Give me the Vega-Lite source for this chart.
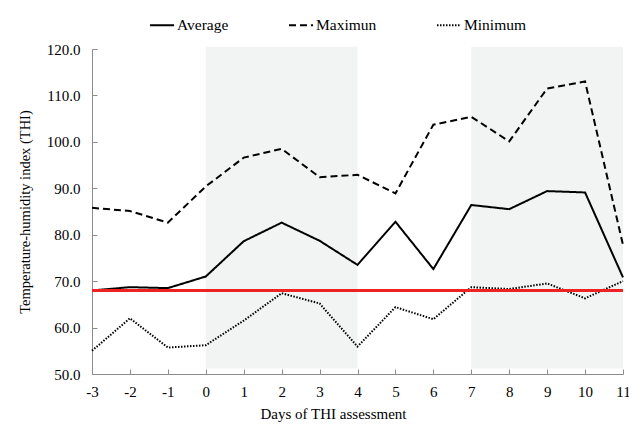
{
  "$schema": "https://vega.github.io/schema/vega-lite/v6.json",
  "autosize": "none",
  "width": 531,
  "height": 325,
  "padding": {"left": 92, "top": 49, "right": 6, "bottom": 50},
  "background": "white",
  "config": {
    "font": "Liberation Serif",
    "view": {"stroke": null},
    "axis": {
      "labelFont": "Liberation Serif",
      "titleFont": "Liberation Serif",
      "labelFontSize": 15,
      "titleFontSize": 15,
      "titleFontWeight": "normal",
      "labelColor": "#000000",
      "titleColor": "#000000",
      "domainColor": "#8c8c8c",
      "tickColor": "#8c8c8c",
      "labelOverlap": false,
      "grid": false
    }
  },
  "datasets": {
    "shade": [{"start": 0, "end": 4}, {"start": 7, "end": 11}],
    "thi": [
      {"day": -3, "series": "Average", "value": 68.0},
      {"day": -2, "series": "Average", "value": 68.7},
      {"day": -1, "series": "Average", "value": 68.5},
      {"day": 0, "series": "Average", "value": 71.0},
      {"day": 1, "series": "Average", "value": 78.6},
      {"day": 2, "series": "Average", "value": 82.6},
      {"day": 3, "series": "Average", "value": 78.7},
      {"day": 4, "series": "Average", "value": 73.5},
      {"day": 5, "series": "Average", "value": 82.8},
      {"day": 6, "series": "Average", "value": 72.6},
      {"day": 7, "series": "Average", "value": 86.4},
      {"day": 8, "series": "Average", "value": 85.5},
      {"day": 9, "series": "Average", "value": 89.4},
      {"day": 10, "series": "Average", "value": 89.1},
      {"day": 11, "series": "Average", "value": 70.8},
      {"day": -3, "series": "Maximun", "value": 85.8},
      {"day": -2, "series": "Maximun", "value": 85.1},
      {"day": -1, "series": "Maximun", "value": 82.6},
      {"day": 0, "series": "Maximun", "value": 90.4},
      {"day": 1, "series": "Maximun", "value": 96.6},
      {"day": 2, "series": "Maximun", "value": 98.5},
      {"day": 3, "series": "Maximun", "value": 92.4},
      {"day": 4, "series": "Maximun", "value": 92.9},
      {"day": 5, "series": "Maximun", "value": 88.9},
      {"day": 6, "series": "Maximun", "value": 103.7},
      {"day": 7, "series": "Maximun", "value": 105.4},
      {"day": 8, "series": "Maximun", "value": 100.1},
      {"day": 9, "series": "Maximun", "value": 111.5},
      {"day": 10, "series": "Maximun", "value": 113.0},
      {"day": 11, "series": "Maximun", "value": 77.8},
      {"day": -3, "series": "Minimum", "value": 55.0},
      {"day": -2, "series": "Minimum", "value": 62.0},
      {"day": -1, "series": "Minimum", "value": 55.7},
      {"day": 0, "series": "Minimum", "value": 56.2},
      {"day": 1, "series": "Minimum", "value": 61.5},
      {"day": 2, "series": "Minimum", "value": 67.4},
      {"day": 3, "series": "Minimum", "value": 65.2},
      {"day": 4, "series": "Minimum", "value": 55.9},
      {"day": 5, "series": "Minimum", "value": 64.4},
      {"day": 6, "series": "Minimum", "value": 61.8},
      {"day": 7, "series": "Minimum", "value": 68.7},
      {"day": 8, "series": "Minimum", "value": 68.3},
      {"day": 9, "series": "Minimum", "value": 69.5},
      {"day": 10, "series": "Minimum", "value": 66.3},
      {"day": 11, "series": "Minimum", "value": 70.0}
    ],
    "threshold": [{"thi": 68}]
  },
  "encoding": {
    "x": {
      "type": "quantitative",
      "scale": {"domain": [-3, 11], "nice": false, "zero": false},
      "axis": {
        "title": "Days of THI assessment",
        "values": [-3, -2, -1, 0, 1, 2, 3, 4, 5, 6, 7, 8, 9, 10, 11],
        "labelExpr": "datum.value + ''",
        "labelOverlap": false,
        "labelFlush": false,
        "tickSize": -5,
        "labelPadding": 15,
        "titlePadding": 7,
        "titleX": 241,
        "titleAnchor": null,
        "titleAlign": "center"
      }
    },
    "y": {
      "type": "quantitative",
      "scale": {"domain": [50, 120], "nice": false, "zero": false},
      "axis": {
        "title": "Temperature-humidity index (THI)",
        "titleFontSize": 14.5,
        "titleColor": "#000000",
        "values": [50, 60, 70, 80, 90, 100, 110, 120],
        "format": ".1f",
        "labelOverlap": false,
        "labelFlush": false,
        "tickSize": -5,
        "labelPadding": 17,
        "titlePadding": 14
      }
    }
  },
  "layer": [
    {
      "data": {"name": "shade"},
      "mark": {"type": "rect", "color": "#f2f3f3"},
      "encoding": {
        "x": {"field": "start", "type": "quantitative"},
        "x2": {"field": "end"},
        "y": {"datum": 51.2},
        "y2": {"datum": 120.5}
      }
    },
    {
      "data": {"name": "thi"},
      "mark": {"type": "line", "color": "black", "strokeWidth": 2},
      "encoding": {
        "x": {"field": "day", "type": "quantitative"},
        "y": {"field": "value", "type": "quantitative"},
        "strokeDash": {
          "field": "series",
          "type": "nominal",
          "scale": {
            "domain": ["Average", "Maximun", "Minimum"],
            "range": [[1, 0], [7, 4], [1.5, 1.5]]
          },
          "legend": {
            "title": null,
            "orient": "none",
            "direction": "horizontal",
            "legendX": 57,
            "legendY": -37,
            "symbolType": "stroke",
            "symbolSize": 576,
            "symbolStrokeWidth": 2,
            "symbolStrokeColor": "black",
            "labelFont": "Liberation Serif",
            "labelFontSize": 15.5,
            "labelColor": "#000000",
            "labelOffset": 2,
            "gridAlign": "each",
            "columnPadding": 56
          }
        },
        "strokeWidth": {
          "field": "series",
          "type": "nominal",
          "scale": {"domain": ["Average", "Maximun", "Minimum"], "range": [2, 2, 1.5]},
          "legend": null
        }
      }
    },
    {
      "data": {"name": "threshold"},
      "mark": {"type": "rule", "color": "#ee2222", "strokeWidth": 3},
      "encoding": {"y": {"field": "thi", "type": "quantitative"}}
    }
  ]
}
